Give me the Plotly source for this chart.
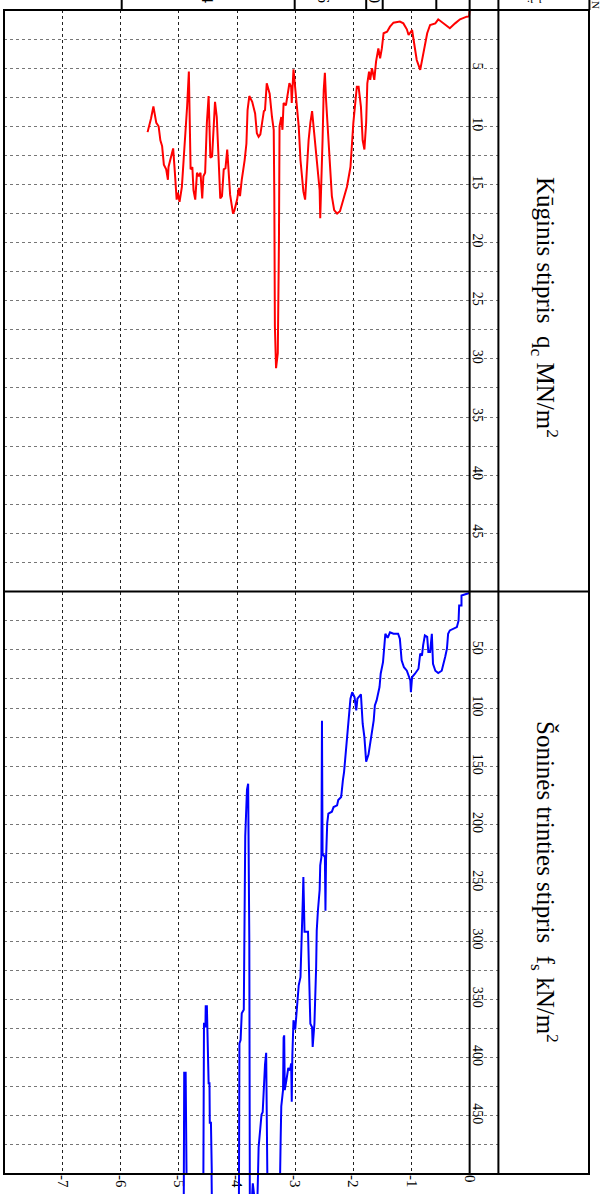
import plotly.graph_objects as go

# ---------------- data (depth in m) ----------------
depth_qc = [0.00, -0.01, -0.05, -0.165, -0.25, -0.34, -0.39, -0.48, -0.54, -0.59, -0.68, -0.73, -0.78,
            -0.85, -0.91, -0.97, -0.99, -1.05, -1.08, -1.14, -1.20, -1.31, -1.37, -1.42, -1.48, -1.51,
            -1.54, -1.57, -1.61, -1.64, -1.68, -1.71, -1.73, -1.76, -1.78, -1.81, -1.84, -1.87, -1.91,
            -1.94, -1.97, -2.00, -2.03, -2.05, -2.11, -2.17, -2.23, -2.28, -2.33, -2.37, -2.40, -2.43,
            -2.47, -2.49, -2.51, -2.53, -2.55, -2.57, -2.58, -2.62, -2.66, -2.69, -2.71, -2.74, -2.77,
            -2.79, -2.81, -2.83, -2.86, -2.88, -2.91, -2.94, -2.97, -3.00, -3.03, -3.06, -3.07, -3.10,
            -3.13, -3.16, -3.20, -3.22, -3.24, -3.26, -3.27, -3.28, -3.30, -3.33, -3.35, -3.36, -3.37,
            -3.40, -3.44, -3.49, -3.52, -3.54, -3.57, -3.60, -3.63, -3.66, -3.69, -3.72, -3.74, -3.79,
            -3.82, -3.84, -3.87, -3.92, -3.95, -3.97, -4.00, -4.05, -4.07, -4.12, -4.15, -4.17, -4.20,
            -4.23, -4.26, -4.29, -4.32, -4.35, -4.38, -4.43, -4.46, -4.49, -4.52, -4.55, -4.58, -4.60,
            -4.63, -4.66, -4.69, -4.72, -4.75, -4.77, -4.80, -4.83, -4.86, -4.89, -4.92, -4.95, -4.99,
            -5.02, -5.04, -5.07, -5.10, -5.15, -5.18, -5.19, -5.22, -5.26, -5.29, -5.32, -5.35, -5.39,
            -5.42, -5.44, -5.48, -5.52, -5.54]
qc = [0.0, 0.55, 0.57, 0.8, 1.15, 1.57, 1.37, 1.0, 0.8, 1.15, 1.29, 2.0, 3.44,
      5.15, 4.3, 2.3, 1.72, 2.15, 1.66, 1.15, 1.0, 1.09, 1.43, 1.86, 2.0, 3.3,
      4.15, 3.3, 4.44, 6.0, 5.0, 6.0, 5.3, 6.3, 9.7, 12.0, 11.2, 8.3, 6.6,
      6.6, 8.0, 9.7, 12.0, 13.5, 15.2, 16.3, 17.3, 17.5, 17.2, 16.0, 13.7, 10.6,
      7.7, 5.4, 6.9, 11.2, 15.5, 17.9, 15.5, 13.5, 11.5, 9.7, 8.7, 9.7, 11.2,
      12.9, 14.9, 16.3, 15.6, 14.3, 12.9, 10.0, 8.3, 6.6, 5.1, 8.0, 6.6, 6.3,
      7.2, 8.2, 8.0, 10.3, 9.2, 9.7, 10.0, 19.8, 29.5, 30.8, 27.2, 16.0, 10.3,
      9.2, 7.2, 6.3, 8.6, 8.7, 9.7, 10.7, 10.9, 10.6, 8.9, 8.3, 7.9, 7.4,
      8.6, 11.5, 12.9, 14.6, 16.0, 15.3, 16.3, 17.3, 17.5, 15.9, 14.0, 12.0, 13.6,
      13.7, 16.0, 16.2, 12.6, 9.2, 7.9, 12.6, 12.7, 7.4, 9.7, 14.0, 14.3, 16.2,
      14.0, 14.3, 14.0, 16.3, 15.5, 13.5, 13.7, 5.3, 8.3, 11.2, 12.9, 15.2, 16.5,
      15.7, 16.3, 14.0, 11.9, 12.9, 13.5, 14.6, 13.7, 13.3, 11.7, 11.2, 10.0, 9.7,
      8.6, 8.3, 9.3, 10.3, 10.5]

depth_fs = [0.00, -0.02, -0.14, -0.14, -0.18, -0.19, -0.22, -0.34, -0.37, -0.39, -0.42, -0.45, -0.48,
            -0.54, -0.59, -0.63, -0.65, -0.68, -0.71, -0.73, -0.77, -0.80, -0.82, -0.85, -0.88, -0.94,
            -0.99, -1.01, -1.02, -1.08, -1.13, -1.17, -1.20, -1.23, -1.31, -1.37, -1.41, -1.45, -1.47,
            -1.49, -1.53, -1.55, -1.60, -1.63, -1.65, -1.68, -1.71, -1.74, -1.78, -1.81, -1.84, -1.85,
            -1.87, -1.93, -1.95, -1.98, -2.02, -2.05, -2.08, -2.11, -2.14, -2.16, -2.18, -2.21, -2.26,
            -2.28, -2.34, -2.37, -2.43, -2.45, -2.47, -2.48, -2.49, -2.53, -2.54, -2.55, -2.57, -2.58,
            -2.61, -2.63, -2.64, -2.67, -2.70, -2.71, -2.74, -2.76, -2.78, -2.84, -2.85, -2.86, -2.87,
            -2.88, -2.91, -2.94, -2.97, -3.00, -3.03, -3.05, -3.06, -3.07, -3.09, -3.12, -3.15, -3.18,
            -3.19, -3.20, -3.21, -3.24, -3.25, -3.26, -3.48, -3.49, -3.50, -3.52, -3.54, -3.56, -3.58,
            -3.60, -3.61, -3.63, -3.64, -3.65, -3.68, -3.72, -3.73, -3.75, -3.78, -3.79, -3.80, -3.81,
            -3.83, -3.85, -3.86, -3.885, -3.92, -3.94, -3.96, -3.97, -4.43, -4.435, -4.45, -4.47, -4.475,
            -4.49, -4.51, -4.52, -4.54, -4.545, -4.56, -4.57, -4.58, -4.87, -4.885, -4.91, -4.92]
fs = [1, 1.5, 3.4, 12, 12, 25, 30.6, 33.4, 36.3, 49, 56, 62, 68,
      70, 68, 62, 36.3, 52, 52, 39, 37.7, 46.3, 55, 53.4, 66.3, 70.6,
      73.5, 86.4, 76.3, 68, 65, 59, 40.6, 36.3, 36.3, 35, 39.8, 36.3, 47.8,
      60.6, 70.6, 82, 93.5, 97.8, 110.6, 122, 132, 140, 146, 125, 113.5, 105,
      88.3, 92, 102, 90.6, 86.4, 92, 110.6, 127.8, 142, 155, 162, 176.4, 179,
      183.5, 185, 189, 190.7, 199, 230, 274, 228, 225, 111, 228, 235, 256,
      274, 291, 322, 371, 391, 374, 371, 334, 292, 292, 248, 245, 265,
      279, 331, 338, 354, 376, 368, 399, 438, 405, 411, 409, 419, 428,
      381, 383, 428, 442, 468, 500, 500, 420, 396, 406, 430, 447, 449,
      463, 468, 477, 500, 520, 530, 512, 508, 525, 540, 300, 170, 165,
      170, 208, 210, 359, 362, 385, 388, 540, 540, 500, 456, 456, 422,
      422, 379, 356, 356, 374, 371, 371, 500, 500, 413, 413, 560]

depth_ticks = [-8, -7, -6, -5, -4, -3, -2, -1, 0]
depth_labels = ["-8", "-7", "-6", "-5", "-4", "-3", "-2", "-1", "0"]
qc_ticks = [5, 10, 15, 20, 25, 30, 35, 40, 45]
qc_minor = [2.5, 7.5, 12.5, 17.5, 22.5, 27.5, 32.5, 37.5, 42.5, 47.5]
fs_ticks = [50, 100, 150, 200, 250, 300, 350, 400, 450]
fs_minor = [25, 75, 125, 175, 225, 275, 325, 375, 425, 475]
title_qc = "Kūginis stipris  q<sub>c</sub> MN/m<sup>2</sup>"
title_fs = "Šoninės trinties stipris  f<sub>s</sub> kN/m<sup>2</sup>"
header_labels = ["4", "6", "0"]
header_model = "modelis"

# ---------------- layout helpers (pixel geometry) ----------------
W, H = 600, 1194
ML, MR, MT, MB = 4, 11, 10, 0
PW, PH = W - ML - MR, H - MT - MB


def px(x):
    return (x - ML) / PW


def py(y):
    return (H - MB - y) / PH


FONT = "Liberation Serif, Times New Roman, serif"
X_START = -8.01
X_END = 0.495
Y_SPLIT = py(591.5)
Y_FRAME = py(1174)
FS_MAX = 500
FS_EXT = FS_MAX + 20 / 1.165

fig = go.Figure()
fig.add_trace(go.Scatter(x=depth_qc, y=qc, mode="lines", line=dict(color="#ff0000", width=2),
                         xaxis="x", yaxis="y", showlegend=False, hoverinfo="skip"))
fig.add_trace(go.Scatter(x=depth_fs, y=fs, mode="lines", line=dict(color="#0000ff", width=2),
                         xaxis="x2", yaxis="y2", showlegend=False, hoverinfo="skip"))
fig.add_trace(go.Scatter(x=depth_fs, y=fs, mode="lines", line=dict(color="#0000ff", width=2),
                         xaxis="x3", yaxis="y3", showlegend=False, hoverinfo="skip"))

grid_x = dict(showgrid=True, gridcolor="#222", griddash="dot", gridwidth=1)
grid_y = dict(showgrid=True, gridcolor="#777", griddash="dot", gridwidth=1)
common_x = dict(range=[X_START, X_END], domain=[0, px(498.4)], zeroline=False, showline=False,
                ticks="", automargin=False, tickvals=depth_ticks, ticktext=depth_labels, fixedrange=True)

fig.update_layout(
    width=W, height=H,
    margin=dict(l=ML, r=MR, t=MT, b=MB, pad=0, autoexpand=False),
    paper_bgcolor="white", plot_bgcolor="white",
    font=dict(family=FONT, color="black"),
    xaxis=dict(anchor="y", showticklabels=False, **common_x, **grid_x),
    xaxis2=dict(anchor="y2", matches="x", showticklabels=True, tickangle=90,
                tickfont=dict(size=15, family=FONT), **common_x, **grid_x),
    xaxis3=dict(anchor="y3", matches="x", showticklabels=False, showgrid=False, **common_x),
    yaxis=dict(domain=[Y_SPLIT, 1], range=[50, 0], anchor="free", position=px(469.6), side="right",
               tickvals=qc_ticks, tickangle=90, tickfont=dict(size=14, family=FONT),
               ticks="", zeroline=False, showline=False, automargin=False, fixedrange=True,
               minor=dict(tickvals=qc_minor, **grid_y), **grid_y),
    yaxis2=dict(domain=[Y_FRAME, Y_SPLIT], range=[FS_MAX, 0], anchor="free", position=px(469.6), side="right",
                tickvals=fs_ticks, tickangle=90, tickfont=dict(size=14, family=FONT),
                ticks="", zeroline=False, showline=False, automargin=False, fixedrange=True,
                minor=dict(tickvals=fs_minor, **grid_y), **grid_y),
    yaxis3=dict(domain=[0, Y_FRAME], range=[FS_EXT, FS_MAX], visible=False, fixedrange=True),
)

shapes = []
blk = dict(color="black", width=2)
# outer frame
shapes.append(dict(type="rect", xref="paper", yref="paper", x0=0, x1=1, y0=Y_FRAME, y1=1, line=blk))
# separator between panels
shapes.append(dict(type="line", xref="paper", yref="paper", x0=0, x1=1, y0=Y_SPLIT, y1=Y_SPLIT, line=blk))
# depth zero line and label column line
shapes.append(dict(type="line", xref="x", yref="paper", x0=0, x1=0, y0=Y_FRAME, y1=1.0085, line=blk))
shapes.append(dict(type="line", xref="paper", yref="paper", x0=px(498.4), x1=px(498.4), y0=Y_FRAME, y1=1.0085, line=blk))
# header dividers above frame
for hx in [121.7, 294.7, 366.2, 382.7, 436.3, 589.4]:
    shapes.append(dict(type="line", xref="paper", yref="paper", x0=px(hx), x1=px(hx), y0=1, y1=1.0085, line=blk))
fig.update_layout(shapes=shapes)

ann = []
ann.append(dict(text=title_qc, xref="paper", yref="paper", x=px(545), y=py(307), showarrow=False,
                textangle=90, font=dict(size=25, family=FONT, color="black"), xanchor="center", yanchor="middle"))
ann.append(dict(text=title_fs, xref="paper", yref="paper", x=px(545), y=py(882), showarrow=False,
                textangle=90, font=dict(size=25, family=FONT, color="black"), xanchor="center", yanchor="middle"))
for lab, hx in zip(header_labels, [207, 323, 374]):
    ann.append(dict(text=lab, xref="paper", yref="paper", x=px(hx), y=py(-1), showarrow=False,
                    textangle=90, font=dict(size=16, family=FONT, color="black"), xanchor="center", yanchor="middle"))
ann.append(dict(text=header_model, xref="paper", yref="paper", x=px(541), y=py(-2), showarrow=False,
                textangle=180, font=dict(size=12, family=FONT, color="black"), xanchor="center", yanchor="middle"))
ann.append(dict(text="N", xref="paper", yref="paper", x=px(596), y=py(5), showarrow=False,
                textangle=90, font=dict(size=11, family=FONT, color="black"), xanchor="center", yanchor="middle"))
fig.update_layout(annotations=ann)

fig.write_html("out.html", config={"displayModeBar": False, "staticPlot": True},
               post_script="document.body.style.margin='0';document.body.style.overflow='hidden';")
